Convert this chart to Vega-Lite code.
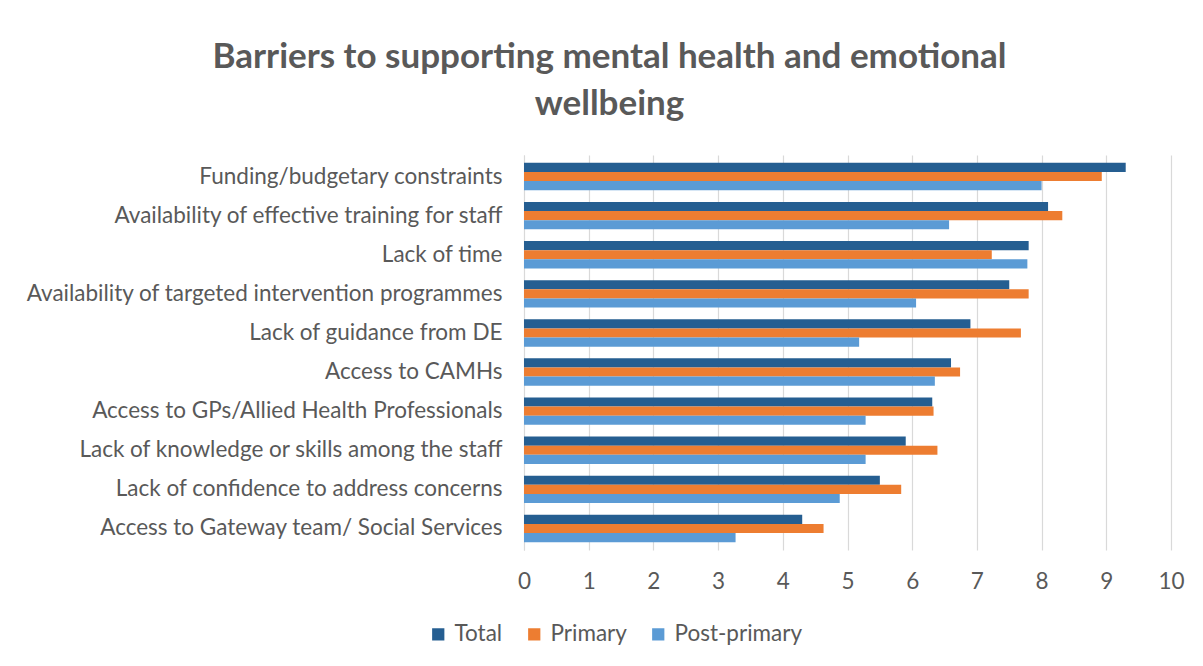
{
  "$schema": "https://vega.github.io/schema/vega-lite/v6.json",
  "width": 647,
  "height": 395,
  "autosize": "none",
  "padding": {"left": 524, "top": 155, "right": 32, "bottom": 116},
  "background": "white",
  "title": {
    "text": ["Barriers to supporting mental health and emotional", "wellbeing"],
    "font": "Lato",
    "fontSize": 35,
    "fontWeight": "bold",
    "color": "#595959",
    "anchor": "middle",
    "frame": "group",
    "dx": -238,
    "offset": 33,
    "lineHeight": 47
  },
  "data": {
    "values": [
      {"barrier": "Funding/budgetary constraints", "series": "Total", "value": 9.30},
      {"barrier": "Funding/budgetary constraints", "series": "Primary", "value": 8.93},
      {"barrier": "Funding/budgetary constraints", "series": "Post-primary", "value": 8.00},
      {"barrier": "Availability of effective training for staff", "series": "Total", "value": 8.10},
      {"barrier": "Availability of effective training for staff", "series": "Primary", "value": 8.32},
      {"barrier": "Availability of effective training for staff", "series": "Post-primary", "value": 6.57},
      {"barrier": "Lack of time", "series": "Total", "value": 7.80},
      {"barrier": "Lack of time", "series": "Primary", "value": 7.23},
      {"barrier": "Lack of time", "series": "Post-primary", "value": 7.78},
      {"barrier": "Availability of targeted intervention programmes", "series": "Total", "value": 7.50},
      {"barrier": "Availability of targeted intervention programmes", "series": "Primary", "value": 7.80},
      {"barrier": "Availability of targeted intervention programmes", "series": "Post-primary", "value": 6.06},
      {"barrier": "Lack of guidance from DE", "series": "Total", "value": 6.90},
      {"barrier": "Lack of guidance from DE", "series": "Primary", "value": 7.68},
      {"barrier": "Lack of guidance from DE", "series": "Post-primary", "value": 5.18},
      {"barrier": "Access to CAMHs", "series": "Total", "value": 6.60},
      {"barrier": "Access to CAMHs", "series": "Primary", "value": 6.74},
      {"barrier": "Access to CAMHs", "series": "Post-primary", "value": 6.35},
      {"barrier": "Access to GPs/Allied Health Professionals", "series": "Total", "value": 6.31},
      {"barrier": "Access to GPs/Allied Health Professionals", "series": "Primary", "value": 6.33},
      {"barrier": "Access to GPs/Allied Health Professionals", "series": "Post-primary", "value": 5.28},
      {"barrier": "Lack of knowledge or skills among the staff", "series": "Total", "value": 5.90},
      {"barrier": "Lack of knowledge or skills among the staff", "series": "Primary", "value": 6.39},
      {"barrier": "Lack of knowledge or skills among the staff", "series": "Post-primary", "value": 5.28},
      {"barrier": "Lack of confidence to address concerns", "series": "Total", "value": 5.50},
      {"barrier": "Lack of confidence to address concerns", "series": "Primary", "value": 5.83},
      {"barrier": "Lack of confidence to address concerns", "series": "Post-primary", "value": 4.88},
      {"barrier": "Access to Gateway team/ Social Services", "series": "Total", "value": 4.30},
      {"barrier": "Access to Gateway team/ Social Services", "series": "Primary", "value": 4.63},
      {"barrier": "Access to Gateway team/ Social Services", "series": "Post-primary", "value": 3.27}
    ]
  },
  "mark": {"type": "bar"},
  "encoding": {
    "y": {
      "field": "barrier",
      "type": "nominal",
      "sort": null,
      "title": null,
      "scale": {"paddingInner": 0.3, "paddingOuter": 0.2},
      "axis": {
        "domain": true,
        "domainColor": "#d9d9d9",
        "ticks": false,
        "labelFont": "Lato",
        "labelFontSize": 22.5,
        "labelColor": "#595959",
        "labelPadding": 22,
        "labelLimit": 600
      }
    },
    "yOffset": {
      "field": "series",
      "type": "nominal",
      "sort": ["Total", "Primary", "Post-primary"],
      "scale": {"paddingInner": 0, "paddingOuter": 0}
    },
    "x": {
      "field": "value",
      "type": "quantitative",
      "title": null,
      "scale": {"domain": [0, 10], "nice": false},
      "axis": {
        "values": [0, 1, 2, 3, 4, 5, 6, 7, 8, 9, 10],
        "domain": false,
        "ticks": false,
        "grid": true,
        "gridColor": "#d9d9d9",
        "gridWidth": 1.2,
        "labelFlush": false,
        "labelFont": "Lato",
        "labelFontSize": 22.5,
        "labelColor": "#595959",
        "labelPadding": 20
      }
    },
    "color": {
      "field": "series",
      "type": "nominal",
      "sort": ["Total", "Primary", "Post-primary"],
      "scale": {"domain": ["Total", "Primary", "Post-primary"], "range": ["#255e91", "#ed7d31", "#5b9bd5"]},
      "legend": {
        "title": null,
        "orient": "none",
        "direction": "horizontal",
        "legendX": -97,
        "legendY": 468,
        "symbolType": "square",
        "symbolSize": 150,
        "symbolStrokeWidth": 0,
        "symbolOpacity": 1,
        "labelFont": "Lato",
        "labelFontSize": 22.5,
        "labelColor": "#595959",
        "labelOffset": 5,
        "columnPadding": 20
      }
    }
  },
  "config": {"view": {"stroke": null}}
}
